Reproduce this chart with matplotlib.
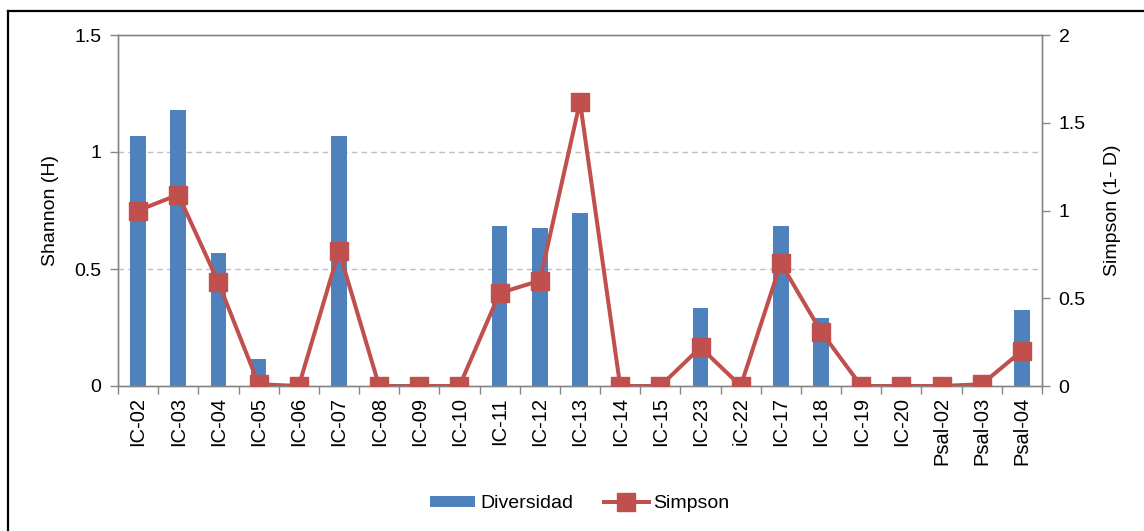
import matplotlib
matplotlib.use("Agg")
import matplotlib.pyplot as plt
from matplotlib.lines import Line2D
import numpy as np

# Sampling stations
stations = ["IC-02", "IC-03", "IC-04", "IC-05", "IC-06", "IC-07", "IC-08", "IC-09",
            "IC-10", "IC-11", "IC-12", "IC-13", "IC-14", "IC-15", "IC-23", "iC-22",
            "IC-17", "IC-18", "IC-19", "IC-20", "Psal-02", "Psal-03", "Psal-04"]

# Shannon diversity index (H), left axis
shannon = [1.07, 1.18, 0.57, 0.115, 0.0, 1.07, 0.0, 0.0,
           0.0, 0.685, 0.675, 0.74, 0.0, 0.0, 0.335, 0.0,
           0.685, 0.29, 0.0, 0.0, 0.0, 0.0, 0.325]

# Simpson index (1 - D), right axis
simpson = [1.0, 1.09, 0.59, 0.01, 0.0, 0.77, 0.0, 0.0,
           0.0, 0.53, 0.60, 1.62, 0.0, 0.0, 0.22, 0.0,
           0.70, 0.31, 0.0, 0.0, 0.0, 0.01, 0.20]

left_ticks = [0, 0.5, 1, 1.5]
left_tick_labels = ["0", "0.5", "1", "1.5"]
right_ticks = [0, 0.5, 1, 1.5, 2]
right_tick_labels = ["0", "0.5", "1", "1.5", "2"]

BLUE = "#4F81BD"
RED = "#C0504D"
AXIS_GRAY = "#868686"
GRID_GRAY = "#BFBFBF"

plt.rcParams["font.family"] = ["Liberation Sans", "DejaVu Sans"]

W, H = 1144, 531
fig = plt.figure(figsize=(W / 100, H / 100), dpi=100)
fig.patch.set_facecolor("white")

left, right, top, bottom = 118, 1042, 35, 386
ax = fig.add_axes([left / W, 1 - bottom / H, (right - left) / W, (bottom - top) / H])
ax2 = ax.twinx()

x = np.arange(len(stations))

# Bars: Shannon diversity
bars = ax.bar(x, shannon, width=0.39, color=BLUE, zorder=2, label="Diversidad")
ax.set_ylim(0, 1.5)
ax.set_xlim(-0.5, len(stations) - 0.5)
ax.set_yticks(left_ticks)
ax.set_yticklabels(left_tick_labels)

# Dashed horizontal gridlines at inner left-axis ticks
for yv in left_ticks[1:-1]:
    ax.axhline(yv, color=GRID_GRAY, lw=1.0, ls=(0, (4, 3)), zorder=1)

# Line: Simpson index
line, = ax2.plot(x, simpson, color=RED, lw=2.9, marker="s", markersize=13,
                 markerfacecolor=RED, markeredgecolor=RED, zorder=3, label="Simpson")
ax2.set_ylim(0, 2)
ax2.set_yticks(right_ticks)
ax2.set_yticklabels(right_tick_labels)

# X-axis ticks between categories, labels at category centres
ax.set_xticks(x)
ax.set_xticklabels(stations, rotation=90, fontsize=14.5)
ax.set_xticks(np.arange(len(stations) + 1) - 0.5, minor=True)
ax.tick_params(axis="x", which="major", length=0, pad=8)
ax.tick_params(axis="x", which="minor", length=6, width=1, color=AXIS_GRAY, direction="out")

ax.tick_params(axis="y", which="major", length=6, width=1, color=AXIS_GRAY,
               direction="out", labelsize=14, pad=6)
ax2.tick_params(axis="y", which="major", length=6, width=1, color=AXIS_GRAY,
                direction="out", labelsize=14, pad=6)

for a in (ax, ax2):
    for s in a.spines.values():
        s.set_color(AXIS_GRAY)
        s.set_linewidth(1.0)

ax.set_ylabel("Shannon (H)", fontsize=14)
ax.yaxis.set_label_coords(-0.064, 0.5)
ax2.set_ylabel("Simpson (1- D)", fontsize=14)
ax2.yaxis.set_label_coords(1.067, 0.5)

# Legend below the chart
fig.legend(handles=[bars, line], labels=["Diversidad", "Simpson"],
           loc="center", bbox_to_anchor=(580 / W, 1 - 504 / H), ncol=2,
           frameon=False, fontsize=14, handlelength=2.3, handleheight=0.45,
           handletextpad=0.25, columnspacing=1.6, numpoints=1)

# Outer frame around the chart (left and top edges)
fig.add_artist(Line2D([8 / W, 8 / W], [0, 1 - 11 / H], color="black", lw=1.6,
                      transform=fig.transFigure))
fig.add_artist(Line2D([8 / W, 1], [1 - 11 / H, 1 - 11 / H], color="black", lw=1.6,
                      transform=fig.transFigure))

fig.savefig("out.png", dpi=100)
